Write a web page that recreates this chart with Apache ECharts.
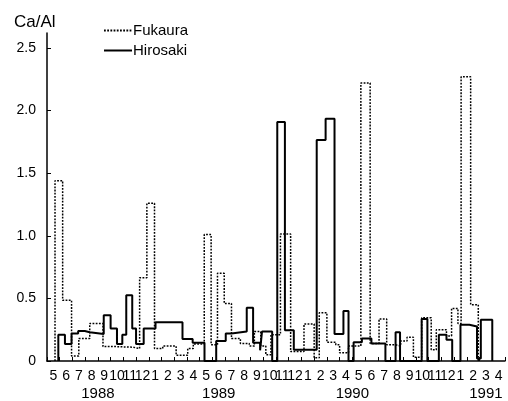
<!DOCTYPE html>
<html>
<head>
<meta charset="utf-8">
<script src="https://cdn.jsdelivr.net/npm/echarts@6/dist/echarts.min.js"></script>
<style>html,body{margin:0;padding:0;background:#fff;}#c{width:508px;height:401px;}</style>
</head>
<body>
<div id="c"></div>
<script>
// Month index axis: 0 = start of May 1988, 36 = end of April 1991
const monthLabels = ['5','6','7','8','9','10','11','12','1','2','3','4',
                     '5','6','7','8','9','10','11','12','1','2','3','4',
                     '5','6','7','8','9','10','11','12','1','2','3','4'];
const yearLabels = ['1988','1989','1990','1991'];
const yearPositions = [4, 13.5, 24, 34.5];
const yTicks = [0, 0.5, 1.0, 1.5, 2.0, 2.5];

// Sampling period edges (in months) and Ca/Al values per period
const fukauraEdges = [0.63, 1.23, 1.93, 2.5, 3.36, 4.4, 5.45, 6.76, 7.28, 7.85, 8.45, 9.1, 10.15, 11.06, 11.5, 12.36, 12.9, 13.4, 13.93, 14.5, 15.2, 15.9, 16.3, 16.8, 17.2, 17.6, 18.35, 19.15, 20.2, 21.0, 21.4, 22.0, 22.7, 23.0, 23.7, 24.67, 25.4, 26.1, 26.7, 27.4, 27.8, 28.3, 28.8, 29.45, 30.2, 30.6, 31.4, 31.8, 32.3, 32.55, 33.3, 33.9];
const fukauraValues = [1.44, 0.485, 0.04, 0.18, 0.30, 0.115, 0.11, 0.10, 0.665, 1.26, 0.10, 0.12, 0.045, 0.10, 0.135, 1.01, 0.13, 0.70, 0.46, 0.18, 0.14, 0.12, 0.235, 0.12, 0.05, 0.21, 1.015, 0.075, 0.295, 0.025, 0.385, 0.15, 0.13, 0.065, 0.12, 2.22, 0.14, 0.335, 0.13, 0.12, 0.16, 0.19, 0.03, 0.345, 0.09, 0.25, 0.2, 0.42, 0.30, 2.27, 0.45];

const hirosakiEdges = [0.89, 1.41, 1.93, 2.45, 2.97, 3.36, 4.46, 5.0, 5.5, 5.92, 6.23, 6.7, 7.0, 7.6, 8.53, 10.65, 11.45, 12.38, 13.3, 14.05, 14.5, 15.7, 16.2, 16.75, 16.9, 17.7, 18.1, 18.7, 19.4, 21.2, 21.9, 22.6, 23.3, 23.7, 24.1, 24.75, 25.5, 26.6, 27.4, 27.75, 29.45, 29.9, 30.8, 31.4, 31.85, 32.5, 33.2, 33.8, 34.1, 35.0];
const hirosakiValues = [0.21, 0.135, 0.22, 0.24, 0.23, 0.215, 0.365, 0.26, 0.135, 0.21, 0.525, 0.26, 0.135, 0.26, 0.31, 0.175, 0.145, 0, 0.16, 0.22, 0.235, 0.425, 0.145, 0.085, 0.235, 0, 1.91, 0.245, 0.09, 1.765, 1.935, 0.215, 0.40, 0, 0.15, 0.18, 0.14, 0, 0.23, 0, 0.335, 0, 0.21, 0.17, 0, 0.29, 0.275, 0.02, 0.33];

function stepPoints(edges, values) {
  const pts = [[edges[0], 0]];
  for (let i = 0; i < values.length; i++) {
    pts.push([edges[i], values[i]]);
    pts.push([edges[i + 1], values[i]]);
  }
  pts.push([edges[edges.length - 1], 0]);
  return pts;
}

const FONT = "'Liberation Sans', 'DejaVu Sans', sans-serif";
const chart = echarts.init(document.getElementById('c'), null, {renderer: 'canvas'});
chart.setOption({
  animation: false,
  backgroundColor: '#fff',
  title: {
    text: 'Ca/Al', left: 9, top: 9,
    textStyle: {fontFamily: FONT, fontSize: 17, fontWeight: 'normal', color: '#000'}
  },
  legend: {
    data: ['Fukaura', 'Hirosaki'],
    orient: 'vertical', left: 98, top: 18,
    itemWidth: 28, itemHeight: 10, itemGap: 5,
    itemStyle: {opacity: 0},
    textStyle: {fontFamily: FONT, fontSize: 15, color: '#000', padding: [0, 0, 0, -4]}
  },
  grid: {left: 47, right: 1, top: 33, bottom: 38, containLabel: false},
  xAxis: [
    {
      type: 'value', min: 0, max: 36, interval: 1,
      axisLine: {show: true, lineStyle: {color: '#000', width: 1.5}},
      axisTick: {show: true, inside: true, length: 4, lineStyle: {color: '#000', width: 1}},
      axisLabel: {show: false},
      splitLine: {show: false}
    },
    {
      type: 'value', min: 0, max: 36, interval: 0.5, position: 'bottom',
      axisLine: {show: false}, axisTick: {show: false}, splitLine: {show: false},
      axisLabel: {
        margin: 8, fontFamily: FONT, fontSize: 14, color: '#000',
        showMinLabel: true, showMaxLabel: true,
        formatter: function (v) { return (v % 1 === 0.5) ? monthLabels[Math.floor(v)] : ''; }
      }
    },
    {
      type: 'value', min: 0, max: 36, interval: 0.5, position: 'bottom',
      axisLine: {show: false}, axisTick: {show: false}, splitLine: {show: false},
      axisLabel: {
        margin: 25, fontFamily: FONT, fontSize: 15, color: '#000',
        showMinLabel: true, showMaxLabel: true,
        formatter: function (v) { const i = yearPositions.indexOf(v); return i >= 0 ? yearLabels[i] : ''; }
      }
    }
  ],
  yAxis: {
    type: 'value', min: 0, max: 2.62, interval: 0.5,
    axisLine: {show: true, lineStyle: {color: '#000', width: 1.5}},
    axisTick: {show: true, inside: true, length: 4, lineStyle: {color: '#000', width: 1}},
    splitLine: {show: false},
    axisLabel: {
      margin: 11, fontFamily: FONT, fontSize: 14, color: '#000', showMaxLabel: false,
      formatter: function (v) {
        const i = yTicks.findIndex(t => Math.abs(t - v) < 1e-6);
        if (i < 0) return '';
        return v === 0 ? '0' : v.toFixed(1);
      }
    }
  },
  series: [
    {
      name: 'Fukaura', type: 'line', xAxisIndex: 0, symbol: 'none', silent: true,
      data: stepPoints(fukauraEdges, fukauraValues),
      lineStyle: {color: '#000', width: 1.5, type: [1.8, 1.4]},
      itemStyle: {color: '#000'}, z: 3
    },
    {
      name: 'Hirosaki', type: 'line', xAxisIndex: 0, symbol: 'none', silent: true,
      data: stepPoints(hirosakiEdges, hirosakiValues),
      lineStyle: {color: '#000', width: 2}, itemStyle: {color: '#000'}, z: 4
    }
  ]
});
</script>
</body>
</html>
